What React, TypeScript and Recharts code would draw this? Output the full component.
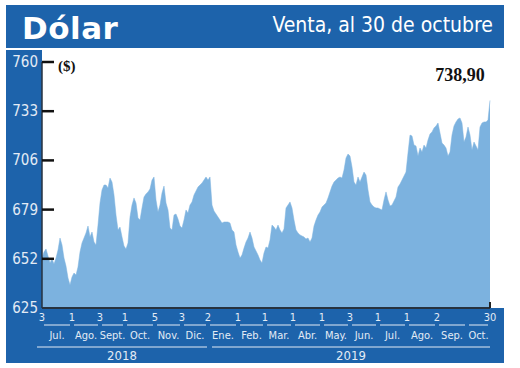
import { AreaChart, Area, XAxis, YAxis } from "recharts";

// cotización diaria, jul. 2018 - 30 oct. 2019
const values = [
  652.4, 655.7, 657.4, 653.5, 649.7, 651.9, 649.1, 652.4, 656.8, 663.4, 659.6, 652.4, 648.0, 641.5, 637.6,
  642.0, 644.2, 643.1, 647.5, 655.7, 660.7, 663.4, 666.2, 670.0, 664.0, 666.7, 661.2, 659.6, 670.5, 682.6,
  689.8, 692.5, 692.5, 690.9, 696.3, 694.1, 687.0, 676.0, 667.8, 669.4, 664.0, 659.0, 657.4, 660.7, 674.9,
  681.5, 685.4, 682.6, 674.4, 673.3, 679.9, 685.9, 687.6, 688.7, 690.3, 695.2, 696.9, 684.3, 677.7, 681.5,
  688.1, 691.9, 682.6, 678.8, 668.9, 667.8, 676.0, 676.6, 673.8, 670.0, 668.9, 673.3, 678.8, 677.1, 681.5,
  683.2, 687.0, 689.2, 691.4, 692.5, 693.6, 695.2, 696.9, 695.2, 696.9, 681.5, 678.2, 676.6, 674.9, 673.3,
  671.6, 672.2, 672.2, 672.2, 671.6, 667.8, 666.7, 659.6, 655.7, 652.4, 654.1, 657.9, 661.2, 663.4, 666.7,
  663.4, 658.5, 656.3, 654.1, 651.3, 649.7, 655.2, 658.5, 657.9, 662.3, 670.5, 669.4, 667.8, 670.5, 667.8,
  666.2, 668.4, 679.9, 681.5, 683.2, 679.9, 673.3, 667.8, 666.2, 665.1, 664.5, 664.0, 662.9, 663.4, 661.2,
  663.4, 670.0, 673.3, 676.0, 677.7, 680.4, 681.5, 682.6, 685.4, 688.7, 691.9, 694.1, 695.2, 696.3, 696.9,
  696.3, 700.7, 707.3, 709.5, 708.4, 702.4, 694.1, 692.5, 696.9, 694.1, 696.9, 699.6, 698.0, 689.8, 683.2,
  681.5, 680.4, 679.9, 679.9, 679.3, 678.8, 684.3, 688.7, 684.3, 681.0, 681.5, 683.7, 685.9, 691.4, 693.0,
  695.2, 697.4, 699.6, 710.1, 719.9, 719.4, 714.4, 713.9, 708.4, 712.8, 710.6, 714.4, 712.8, 717.2, 720.5,
  721.6, 723.8, 724.9, 726.5, 721.0, 715.5, 714.4, 712.8, 708.4, 710.6, 719.9, 724.9, 727.1, 728.7, 729.3,
  726.5, 716.1, 718.8, 724.3, 719.9, 711.7, 716.1, 713.9, 711.7, 724.3, 726.5, 727.1, 727.1, 728.2, 738.9,
];

const yTicks = [625, 652, 679, 706, 733, 760];
// posición (en el índice de la serie) del primer día de cada mes
const monthStarts = [0, 15, 29, 41.5, 56.5, 70, 83, 98, 111.5, 125.5, 140, 154, 168, 182.5, 197.5, 212.5, 224];
const dayLabels = ["3", "1", "3", "1", "5", "3", "2", "1", "1", "1", "1", "3", "1", "1", "2", "", "30"];
const monthNames = ["Jul.", "Ago.", "Sept.", "Oct.", "Nov.", "Dic.", "Ene.", "Feb.", "Mar.", "Abr.", "May.", "Jun.", "Jul.", "Ago.", "Sep.", "Oct."];
const years = ["2018", "2019"];
const yearBounds = [0, 6, 16];

const data = values.map((v, i) => ({ i, v }));

const W = 520;
const H = 368;
const BLUE = "#1d63ab";
const FILL = "#7cb2df";
const LABEL = "#e3ebf5";
const NARROW = "'Liberation Sans Narrow', 'DejaVu Sans Condensed', 'Roboto', sans-serif";
const SERIF = "'Liberation Serif', 'DejaVu Serif', serif";
const PLOT_W = 448;
const PX = PLOT_W / (values.length - 1);

function ValueTick(props: any) {
  const { x, y, payload } = props;
  return (
    <g>
      <text x={x - 4} y={y} dy={5} textAnchor="end" fill={LABEL} fontSize={15} fontFamily={NARROW}>
        {payload.value}
      </text>
      {payload.value !== yTicks[0] && (
        <line x1={x} x2={x + 12} y1={y} y2={y} stroke="#111" strokeWidth={2.5} />
      )}
    </g>
  );
}

function MonthTick(props: any) {
  const { x, y, payload } = props;
  const k = monthStarts.indexOf(payload.value);
  const last = k === monthStarts.length - 1;
  const nx = last ? x : x + (monthStarts[k + 1] - payload.value) * PX;
  const yi = yearBounds.indexOf(k);
  let yearPart = null;
  if (yi >= 0 && yi < years.length) {
    const ex = x + (monthStarts[yearBounds[yi + 1]] - payload.value) * PX;
    const x1 = yi === 0 ? x - 5 : x + 4;
    const x2 = yi === 0 ? ex - 1 : ex;
    yearPart = (
      <g>
        <line x1={x1} x2={x2} y1={y + 39} y2={y + 39} stroke={LABEL} strokeWidth={1} />
        <text x={(x1 + x2) / 2} y={y + 52} textAnchor="middle" fill={LABEL} fontSize={13} fontFamily={NARROW}>
          {years[yi]}
        </text>
      </g>
    );
  }
  return (
    <g>
      <text x={x} y={y + 13} textAnchor="middle" fill={LABEL} fontSize={11} fontFamily={NARROW}>
        {dayLabels[k]}
      </text>
      {!last && <line x1={x + 2} x2={nx - 2} y1={y + 17} y2={y + 17} stroke={LABEL} strokeWidth={1} />}
      {!last && (
        <text x={(x + nx) / 2} y={y + 31} textAnchor="middle" fill={LABEL} fontSize={11} fontFamily={NARROW}>
          {monthNames[k]}
        </text>
      )}
      {yearPart}
      {last && <line x1={x} x2={x} y1={y - 6} y2={y} stroke="#222" strokeWidth={2} />}
    </g>
  );
}

export default function App() {
  const lastValue = values[values.length - 1].toFixed(2).replace(".", ",");

  return (
    <div style={{ position: "absolute", left: 0, top: 0, width: W, height: H, background: "#fff" }}>
      <svg width={W} height={H} style={{ position: "absolute", left: 0, top: 0 }}>
        <rect x={6} y={5} width={498} height={43} fill={BLUE} />
        <rect x={6} y={50} width={36} height={260} fill={BLUE} />
        <rect x={6} y={308} width={498} height={55} fill={BLUE} />
        <text x={22} y={39} fill="#fff" fontSize={31} fontWeight="bold" fontFamily="'DejaVu Sans', sans-serif"
          letterSpacing={0.5}>
          Dólar
        </text>
        <text x={493} y={32} textAnchor="end" fill="#fff" fontSize={21} fontFamily={NARROW}>
          Venta, al 30 de octubre
        </text>
        <text x={58} y={71} fill="#111" fontSize={15} fontWeight="bold" fontFamily={SERIF}>($)</text>
        <text x={460} y={81} textAnchor="middle" fill="#111" fontSize={18} fontWeight="bold" fontFamily={SERIF}>
          {lastValue}
        </text>
      </svg>
      <div style={{ position: "absolute", left: 0, top: 0 }}>
        <AreaChart width={W} height={H} data={data} margin={{ top: 62, right: 30, bottom: 0, left: 6 }}>
          <XAxis
            type="number"
            dataKey="i"
            domain={[0, values.length - 1]}
            ticks={monthStarts}
            interval={0}
            height={60}
            tickLine={false}
            tickSize={0}
            tickMargin={0}
            axisLine={{ stroke: "#27323f", strokeWidth: 2 }}
            tick={<MonthTick />}
          />
          <YAxis
            domain={[625, 760]}
            ticks={yTicks}
            interval={0}
            width={36}
            tickLine={false}
            tickSize={0}
            tickMargin={0}
            axisLine={{ stroke: "#27323f", strokeWidth: 1.5 }}
            tick={<ValueTick />}
          />
          <Area
            type="linear"
            dataKey="v"
            fill={FILL}
            fillOpacity={1}
            stroke={FILL}
            strokeWidth={0.5}
            dot={false}
            isAnimationActive={false}
          />
        </AreaChart>
      </div>
    </div>
  );
}
